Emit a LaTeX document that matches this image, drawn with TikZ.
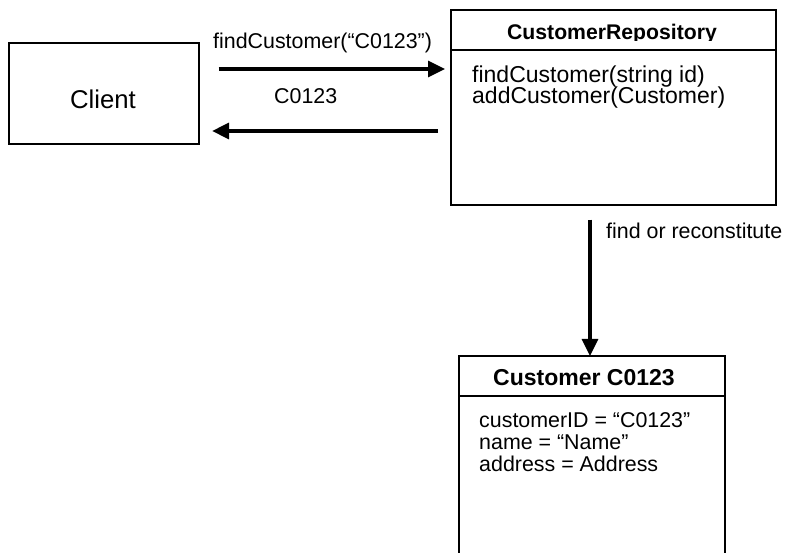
\documentclass[tikz,border=0pt]{standalone}
\usepackage{fontspec}
\setmainfont{Liberation Sans}
\usetikzlibrary{arrows.meta}
\begin{document}
\begin{tikzpicture}[x=1pt,y=-1pt,
  box/.style={draw, line width=1.6pt, anchor=north west, inner sep=0pt},
  divline/.style={line width=1.6pt},
  lbl/.style={inner sep=0pt, anchor=base west, font=\fontsize{21.4}{21}\selectfont},
  opstxt/.style={inner sep=0pt, anchor=base west, font=\fontsize{23}{21}\selectfont},
  ttl/.style={inner sep=0pt, anchor=base, font=\bfseries\fontsize{21.2}{21}\selectfont},
  arr/.style={line width=3.2pt, -{Triangle[length=17pt,width=16pt]}},
]
\useasboundingbox (0,0) rectangle (785,553);
\clip (0,0) rectangle (785,553);
\fill[white] (0,0) rectangle (785,553);

% Client
\node[box, minimum width=190pt, minimum height=101pt] (client) at (8,42) {};
\node[inner sep=0pt, anchor=base, font=\fontsize{25.7}{26}\selectfont] (clienttxt) at (103,108.5) {Client};

% Repository
\node[box, minimum width=325pt, minimum height=195pt] (repo) at (450,9) {};
\draw[divline] ([yshift=-41pt]repo.north west) -- ([yshift=-41pt]repo.north east);
\begin{scope}
  \clip (450,9) rectangle (775,40.6);
  \node[ttl] (repotitle) at (612,40) {CustomerRepository};
\end{scope}
\node[opstxt] (op1) at (472,82.3) {findCustomer(string id)};
\node[opstxt] (op2) at (472,103.3) {addCustomer(Customer)};

% Customer
\node[box, minimum width=266pt, minimum height=260pt] (cust) at (458,355) {};
\draw[divline] ([yshift=-41pt]cust.north west) -- ([yshift=-41pt]cust.north east);
\node[ttl, font=\bfseries\fontsize{23}{21}\selectfont] (custtitle) at (584,385) {Customer C0123};
\node[lbl] (at1) at (479,428) {customerID = “C0123”};
\node[lbl] (at2) at (479,449.5) {name = “Name”};
\node[lbl] (at3) at (479,471) {address = Address};

% connectors
\coordinate (y1) at (0,69);
\coordinate (y2) at (0,131);
\coordinate (xv) at (590,0);
\draw[arr, shorten <=19pt, shorten >=5pt] (client.east |- y1) -- (repo.west |- y1);
\draw[arr, shorten <=12pt, shorten >=12.5pt] (repo.west |- y2) -- (client.east |- y2);
\draw[arr, shorten <=14pt, shorten >=-1pt] (repo.south -| xv) -- (cust.north -| xv);

% labels
\node[lbl] (l1) at (213,48.3) {findCustomer(“C0123”)};
\node[lbl] (l2) at (274,104) {C0123};
\node[lbl] (l3) at (606,239) {find or reconstitute};
\end{tikzpicture}
\end{document}
